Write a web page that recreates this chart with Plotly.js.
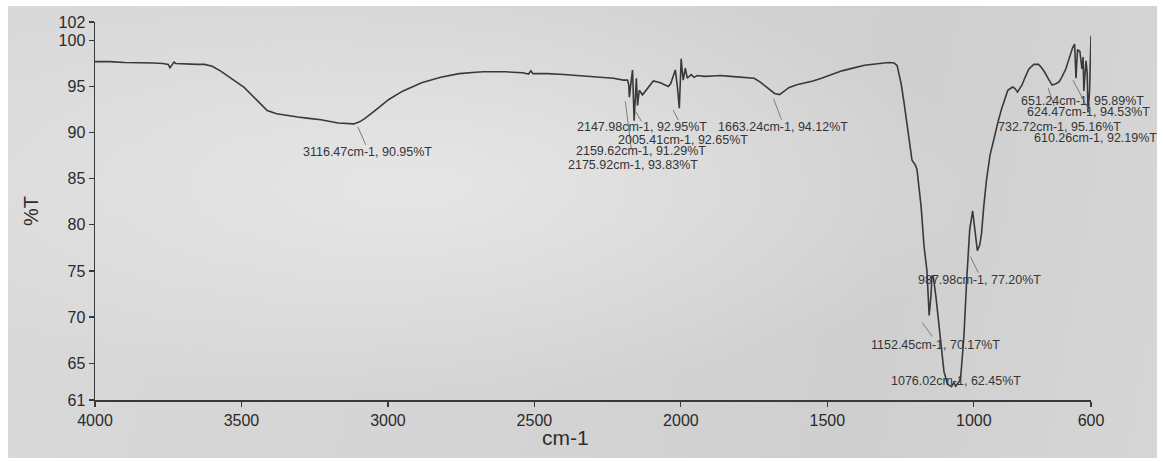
<!DOCTYPE html>
<html>
<head>
<meta charset="utf-8">
<script src="https://cdn.plot.ly/plotly-3.0.1.min.js"></script>
<style>
  html, body { margin: 0; padding: 0; background: #ffffff; }
  #sheet {
    position: absolute; left: 8px; top: 6px; right: 7px; bottom: 3px;
    background:
      radial-gradient(ellipse at 35% 40%, rgba(232,232,232,0.9) 0%, rgba(220,220,220,0.0) 55%),
      linear-gradient(100deg, #d9d9d9 0%, #d4d4d4 45%, #cfcfcf 75%, #d6d6d6 100%);
  }
  #chart { position: absolute; left: 0; top: 0; width: 1164px; height: 461px; }
</style>
</head>
<body>
<div id="sheet"></div>
<div id="chart"></div>
<script>
// IR spectrum: wavenumber (cm-1) against transmittance (%T)
const wavenumber = [
  4000, 3950, 3900, 3852, 3800, 3768, 3750, 3744, 3738, 3730, 3724, 3700, 3683, 3650, 3626,
  3600, 3572, 3540, 3510, 3491, 3450, 3412, 3380, 3353, 3308, 3270, 3229, 3170, 3140, 3116.47,
  3095, 3076, 3040, 2997, 2950, 2885, 2820, 2757, 2700, 2674, 2600, 2540, 2520, 2512, 2505,
  2455, 2400, 2350, 2300, 2274, 2230, 2196, 2182, 2178, 2175.92, 2170, 2165, 2159.62, 2155, 2152,
  2147.98, 2142, 2131, 2115, 2094, 2070, 2043, 2035, 2029, 2019, 2012, 2005.41, 2002, 1999, 1995,
  1992, 1985, 1978, 1965, 1955, 1944, 1920, 1890, 1866, 1830, 1774, 1750, 1730, 1710, 1696,
  1680, 1663.24, 1652, 1630, 1604, 1575, 1549, 1520, 1492, 1450, 1413, 1373, 1321, 1290, 1272,
  1262, 1255, 1248, 1238, 1228, 1218, 1211, 1200, 1194, 1187, 1180, 1170, 1160, 1152.45, 1146,
  1143, 1138, 1129, 1115, 1102, 1090, 1076.02, 1068, 1062, 1055, 1048, 1044, 1034, 1024, 1014,
  1004, 996, 987.98, 980, 974, 966, 957, 945, 934, 917, 905, 894, 884, 868, 860,
  851, 843, 835, 825, 812, 795, 779, 770, 759, 745, 732.72, 720, 709, 700, 686,
  675, 663, 656, 651.24, 646, 638, 631, 627, 624.47, 617, 613, 610.26, 605, 600
];
const transmittance = [
  97.7, 97.7, 97.6, 97.6, 97.55, 97.5, 97.4, 97.05, 97.3, 97.65, 97.5, 97.45, 97.4, 97.4, 97.4,
  97.2, 96.7, 96.0, 95.3, 94.9, 93.6, 92.4, 92.05, 91.9, 91.7, 91.55, 91.4, 91.05, 90.98, 90.95,
  91.2, 91.6, 92.5, 93.6, 94.5, 95.4, 96.0, 96.4, 96.55, 96.6, 96.6, 96.5, 96.35, 96.7, 96.4,
  96.4, 96.3, 96.2, 96.05, 96.0, 95.9, 95.7, 95.7, 95.2, 93.83, 95.5, 96.8, 91.29, 95.0, 95.9,
  92.95, 94.6, 94.1, 94.8, 95.6, 95.4, 95.0, 95.3, 95.9, 96.8, 95.0, 92.65, 95.5, 98.0, 96.5,
  95.7, 97.0, 95.9, 96.3, 96.0, 96.2, 96.1, 96.15, 96.2, 96.1, 96.0, 95.9, 95.5, 95.0, 94.6,
  94.25, 94.12, 94.4, 94.9, 95.2, 95.4, 95.6, 95.9, 96.2, 96.7, 97.0, 97.3, 97.5, 97.6, 97.55,
  97.3, 96.3, 95.3, 93.2, 91.0, 88.6, 87.0, 86.5, 86.0, 84.0, 82.0, 77.7, 75.0, 70.17, 72.4,
  74.5, 74.3, 72.1, 67.8, 64.1, 62.7, 62.45, 62.9, 62.5, 62.8, 63.1, 63.8, 67.8, 74.2, 79.5,
  81.5, 79.5, 77.20, 77.8, 79.0, 82.0, 84.8, 87.5, 89.1, 91.2, 92.6, 93.7, 94.6, 94.95, 94.8,
  94.4, 94.8, 95.2, 96.0, 96.9, 97.4, 97.4, 97.1, 96.6, 95.8, 95.16, 95.3, 95.5, 96.0, 96.9,
  98.0, 99.2, 99.6, 95.89, 99.0, 98.8, 96.9, 98.2, 94.53, 97.8, 96.5, 92.19, 94.5, 100.5
];

// Picked peaks
const peakWavenumber = [3116.47, 2147.98, 1663.24, 2005.41, 2159.62, 2175.92,
                        651.24, 624.47, 732.72, 610.26, 987.98, 1152.45, 1076.02];
const peakTransmittance = [90.95, 92.95, 94.12, 92.65, 91.29, 93.83,
                           95.89, 94.53, 95.16, 92.19, 77.20, 70.17, 62.45];

// Axis ticks
const xTicks = [4000, 3500, 3000, 2500, 2000, 1500, 1000, 600];
const yTicks = [61, 65, 70, 75, 80, 85, 90, 95, 100, 102];

// Label placement relative to each peak (pixels): text shift and leader line ends
const labelShift = [[14, -28], [4, -22], [3, -32], [4, -32], [7, -30], [4, -68],
                    [7, -23], [5, -21], [7, -42], [8, -26], [2, -29], [6, -30], [4, 6]];
const leaderEnds = [[4, -3, 12, -21], [-2, -6, 4, -16], [-6, -4, 2, -25], [-6, -2, -1, -12],
                    null, [-4, -4, 2, -52],
                    [-3, -2, 13, -32], null, [-4, -3, 2, -21], null,
                    [-7, -6, 1, -22], [-7, -7, 3, -21], null];

const ink = '#393939';
const font = 'Liberation Sans, Arial, sans-serif';

const annotations = peakWavenumber.map((w, i) => ({
  x: w, y: peakTransmittance[i], xref: 'x', yref: 'y',
  text: w.toFixed(2) + 'cm-1, ' + peakTransmittance[i].toFixed(2) + '%T',
  showarrow: false, xanchor: 'center', yanchor: 'middle',
  xshift: labelShift[i][0], yshift: labelShift[i][1],
  font: { family: font, size: 12.5, color: '#353535' }
}));
annotations.push({
  xref: 'paper', yref: 'paper', x: 0.472, y: -0.098,
  xanchor: 'center', yanchor: 'middle', showarrow: false,
  text: 'cm-1', font: { family: font, size: 21, color: '#2e2e2e' }
});

const shapes = [];
peakWavenumber.forEach((w, i) => {
  const e = leaderEnds[i];
  if (!e) return;
  shapes.push({
    type: 'line', xref: 'x', yref: 'y',
    xsizemode: 'pixel', ysizemode: 'pixel',
    xanchor: w, yanchor: peakTransmittance[i],
    x0: e[0], y0: e[1], x1: e[2], y1: e[3],
    line: { color: '#7c7c7c', width: 1 }
  });
});

const trace = {
  x: wavenumber, y: transmittance, type: 'scatter', mode: 'lines',
  line: { color: ink, width: 1.6 }, hoverinfo: 'skip'
};

const axisCommon = {
  showline: true, linecolor: ink, linewidth: 1.5, mirror: false,
  ticks: 'outside', ticklen: 5, tickwidth: 1.2, tickcolor: ink,
  showgrid: false, zeroline: false,
  tickfont: { family: font, size: 16, color: '#2a2a2a' }
};

const layout = {
  width: 1164, height: 461,
  margin: { l: 95, r: 73, t: 22, b: 61 },
  paper_bgcolor: 'rgba(0,0,0,0)', plot_bgcolor: 'rgba(0,0,0,0)',
  showlegend: false,
  xaxis: Object.assign({}, axisCommon, {
    range: [4000, 600], tickvals: xTicks, ticktext: xTicks.map(String)
  }),
  yaxis: Object.assign({}, axisCommon, {
    range: [61, 102], tickvals: yTicks, ticktext: yTicks.map(String),
    title: { text: '%T', standoff: 14, font: { family: font, size: 20, color: '#2e2e2e' } }
  }),
  annotations: annotations,
  shapes: shapes
};

Plotly.newPlot('chart', [trace], layout, { staticPlot: true, displayModeBar: false });
</script>
</body>
</html>
